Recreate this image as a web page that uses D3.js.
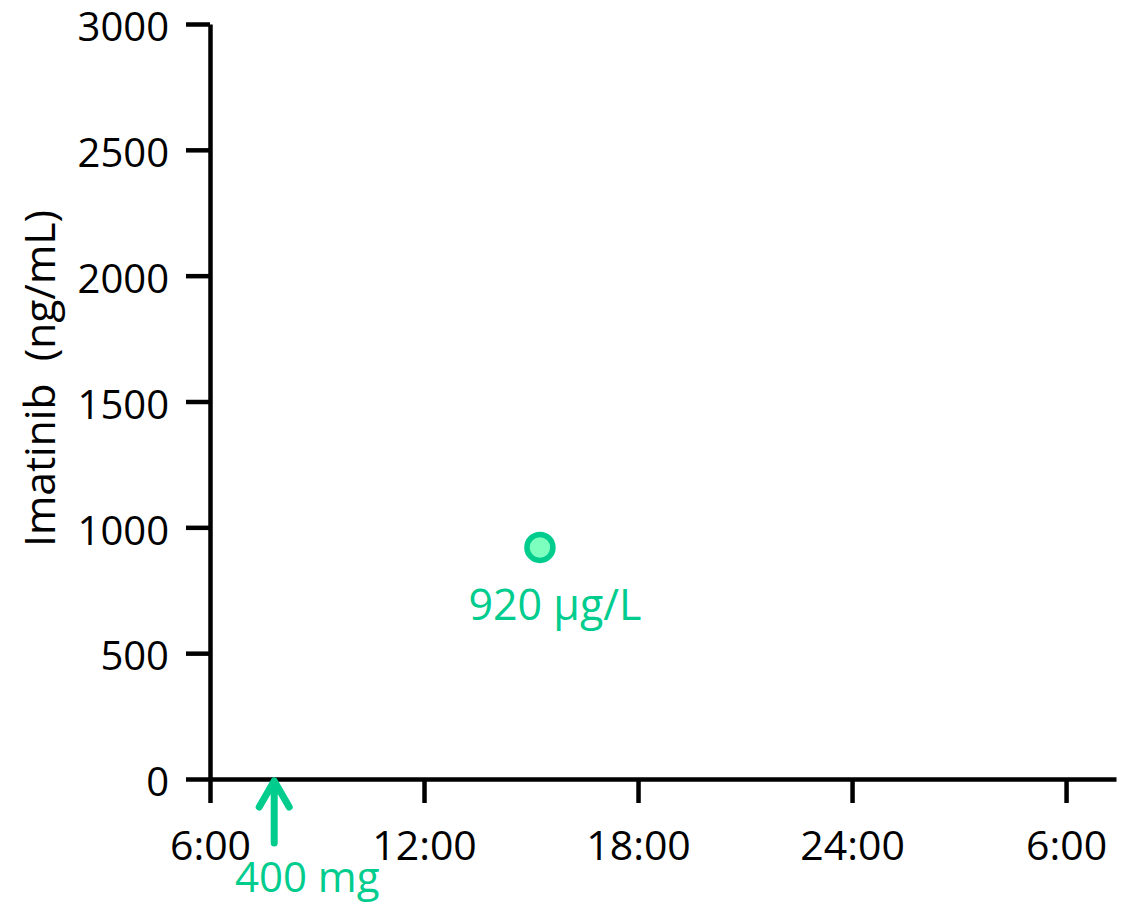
<!DOCTYPE html>
<html>
<head>
<meta charset="utf-8">
<script src="https://cdn.jsdelivr.net/npm/d3@7"></script>
<style>
  body { margin: 0; background: #fff; }
  svg text { font-family: "Open Sans", sans-serif; }
</style>
</head>
<body>
<div id="chart"></div>
<script>
// time in hours from midnight of day 1 (30 = 6:00 next day)
var tickHours = [6, 12, 18, 24, 30];
var tickLabels = ["6:00", "12:00", "18:00", "24:00", "6:00"];
var yTicks = [0, 500, 1000, 1500, 2000, 2500, 3000];

var doseHours = [7.8];
var doseLabels = ["400 mg"];

var sampleHours = [15.25];
var sampleValues = [920];
var sampleLabels = ["920 µg/L"];

var green = "#00cc8e";
var lightGreen = "#7dffbe";

var width = 1148, height = 906;

var x = d3.scaleLinear().domain([6, 31.4]).range([210, 1116]);
var y = d3.scaleLinear().domain([0, 3000]).range([779, 24]);

var svg = d3.select("#chart").append("svg")
  .attr("width", width)
  .attr("height", height);

// x axis
var xAxis = svg.append("g")
  .attr("transform", "translate(0," + y(0) + ")")
  .call(d3.axisBottom(x)
    .tickValues(tickHours)
    .tickFormat(function(d, i) { return tickLabels[i]; })
    .tickSize(24)
    .tickSizeOuter(0)
    .tickPadding(28));

xAxis.selectAll(".tick text").style("font-size", "41px");

// y axis
var yAxis = svg.append("g")
  .attr("transform", "translate(" + x(6) + ",0)")
  .call(d3.axisLeft(y)
    .tickValues(yTicks)
    .tickFormat(d3.format("d"))
    .tickSize(24)
    .tickSizeOuter(0)
    .tickPadding(17));

yAxis.selectAll(".tick text")
  .attr("dy", "0.42em")
  .style("font-size", "40px");

svg.selectAll(".domain, .tick line")
  .attr("stroke", "#000")
  .attr("stroke-width", 4.5);

svg.selectAll(".tick text").attr("fill", "#000");

// y axis title
svg.append("text")
  .attr("transform", "translate(55," + 378.5 + ") rotate(-90)")
  .attr("text-anchor", "middle")
  .attr("fill", "#000")
  .style("font-size", "42.5px")
  .style("white-space", "pre")
  .attr("xml:space", "preserve")
  .text("Imatinib  (ng/mL)");

// dose arrows
var dose = svg.selectAll(".dose")
  .data(doseHours)
  .enter().append("g")
  .attr("class", "dose")
  .attr("transform", function(d) { return "translate(" + x(d) + "," + (y(0) + 2) + ")"; });

dose.append("path")
  .attr("d", "M0,62 L0,0 M-15,26 L0,0 L15,26")
  .attr("fill", "none")
  .attr("stroke", green)
  .attr("stroke-width", 7)
  .attr("stroke-linecap", "round")
  .attr("stroke-linejoin", "round");

dose.append("text")
  .attr("x", 33)
  .attr("y", 111)
  .attr("text-anchor", "middle")
  .attr("fill", green)
  .style("font-size", "42px")
  .text(function(d, i) { return doseLabels[i]; });

// samples
svg.selectAll(".sample")
  .data(sampleHours)
  .enter().append("circle")
  .attr("class", "sample")
  .attr("cx", function(d) { return x(d); })
  .attr("cy", function(d, i) { return y(sampleValues[i]); })
  .attr("r", 13)
  .attr("fill", lightGreen)
  .attr("stroke", green)
  .attr("stroke-width", 5.5);

svg.selectAll(".sample-label")
  .data(sampleHours)
  .enter().append("text")
  .attr("class", "sample-label")
  .attr("x", function(d) { return x(d) + 15; })
  .attr("y", function(d, i) { return y(sampleValues[i]) + 73; })
  .attr("text-anchor", "middle")
  .attr("fill", green)
  .style("font-size", "43px")
  .text(function(d, i) { return sampleLabels[i]; });
</script>
</body>
</html>
